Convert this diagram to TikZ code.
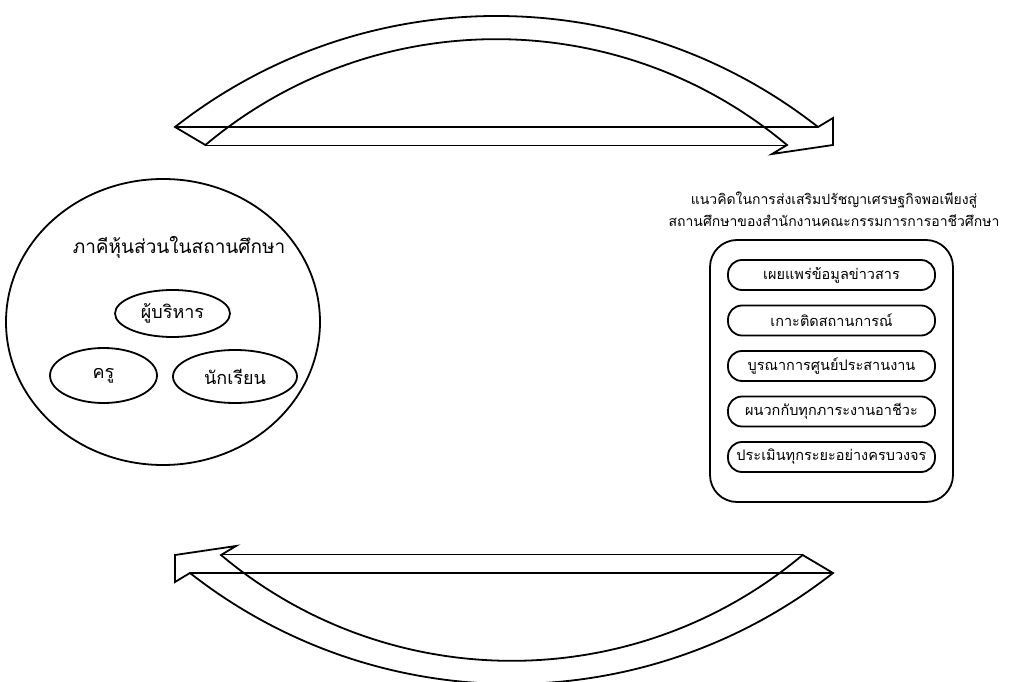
\documentclass[tikz,border=0pt]{standalone}
\usepackage{fontspec}
\setmainfont[Script=Thai]{Loma}
\usepackage{tikz}
\usetikzlibrary{shapes.geometric}

\tikzset{
  bigline/.style={line width=1.8pt, line join=miter},
  oval/.style={draw, ellipse, line width=1.8pt, inner sep=0pt, font=\fontsize{18}{20}\selectfont},
  pill/.style={draw, rectangle, rounded corners=14pt, line width=1.8pt, minimum width=207pt, minimum height=30pt, inner sep=0pt, font=\fontsize{14.5}{16}\selectfont},
}
\newcommand{\bendarrow}{%
  \draw[bigline] (175,554) arc (128.1:51.9:521.1) -- (833,563) -- (833,536) -- (772,527) -- (787,536)
    arc (50:130:452.4) -- cycle;
  \draw[bigline] (175,554) -- (818,554);
  \draw[bigline] (205,535.5) -- (787,535.5);
}

\begin{document}
\begin{tikzpicture}[x=1pt,y=1pt]
  \useasboundingbox (0,0) rectangle (1010,681);
  \clip (0,0) rectangle (1010,681);
  % arrows, top and bottom
  \bendarrow
  \begin{scope}[rotate around={180:(504,331)}]
    \bendarrow
  \end{scope}
  % left: partners
  \node[oval, minimum width=314pt, minimum height=286pt] (partners) at (163,359) {};
  \node[font=\fontsize{19}{22}\selectfont] (partnerstitle) at (179,434) {ภาคีหุ้นส่วนในสถานศึกษา};
  \node[oval, minimum width=115pt, minimum height=47pt] (admin) at (172.5,367.5) {ผู้บริหาร};
  \node[oval, minimum width=107pt, minimum height=55pt] (teacher) at (103.5,305.5) {ครู};
  \node[oval, minimum width=124pt, minimum height=53pt] (student) at (235,304.5) {นักเรียน};
  % right: concept
  \node[align=center, font=\fontsize{14}{22}\selectfont] (concept) at (834,472) {แนวคิดในการส่งเสริมปรัชญาเศรษฐกิจพอเพียงสู่\\สถานศึกษาของสำนักงานคณะกรรมการการอาชีวศึกษา};
  \node[draw, rectangle, rounded corners=27pt, line width=1.8pt, minimum width=243pt, minimum height=262pt] (conceptbox) at (831.5,310) {};
  \node[pill] (p1) at (831.5,406) {เผยแพร่ข้อมูลข่าวสาร};
  \node[pill] (p2) at (831.5,360.5) {เกาะติดสถานการณ์};
  \node[pill] (p3) at (831.5,315) {บูรณาการศูนย์ประสานงาน};
  \node[pill] (p4) at (831.5,269.5) {ผนวกกับทุกภาระงานอาชีวะ};
  \node[pill] (p5) at (831.5,224) {ประเมินทุกระยะอย่างครบวงจร};
\end{tikzpicture}
\end{document}
